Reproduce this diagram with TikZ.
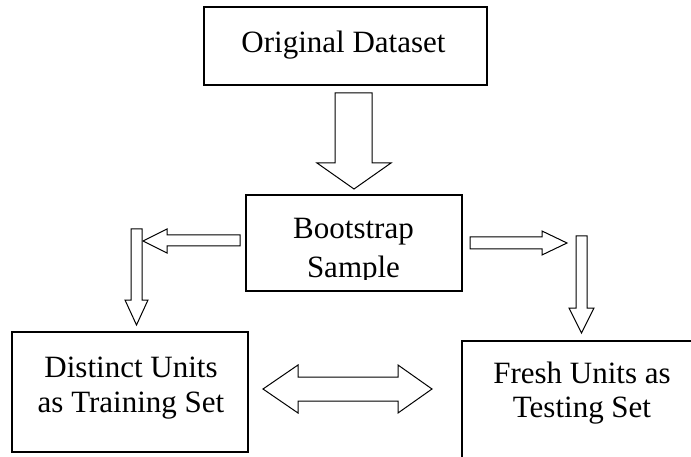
\documentclass[tikz,border=0pt]{standalone}
\usepackage{fontspec}
\setmainfont{Liberation Serif}
\begin{document}
\begin{tikzpicture}[x=1pt,y=-1pt,
  boxline/.style={draw=black,line width=1.4pt},
  blockarrow/.style={draw=black,line width=1pt,fill=white,line join=miter},
  lbl/.style={inner sep=0pt,anchor=base,font=\fontsize{31}{35}\selectfont}]
\useasboundingbox (0,0) rectangle (691,457);
\clip (0,0) rectangle (691,457);
% boxes
\draw[boxline] (204,7) rectangle (487,85);
\draw[boxline] (246,195) rectangle (462,291);
\draw[boxline] (12,332) rectangle (248,452);
\draw[boxline] (462,341) rectangle (705,480);
% texts
\node[lbl] (torig) at (343.5,53) {Original Dataset};
\node[lbl] (tboot) at (353.5,239) {Bootstrap};
\begin{scope}
  \clip (246,195) rectangle (462,280);
  \node[lbl] (tsamp) at (353.5,277) {Sample};
\end{scope}
\node[lbl] (tdist1) at (131,377) {Distinct Units};
\node[lbl] (tdist2) at (131,412) {as Training Set};
\node[lbl] (tfresh1) at (582,383) {Fresh Units as};
\node[lbl] (tfresh2) at (582,417) {Testing Set};
% big down arrow
\draw[blockarrow] (335,93) -- (372,93) -- (372,163) -- (391,163) -- (354,189)
  -- (317,163) -- (335,163) -- cycle;
% left horizontal arrow
\draw[blockarrow] (240,235) -- (167,235) -- (167,229) -- (143,241) -- (167,253)
  -- (167,246) -- (240,246) -- cycle;
% left vertical arrow
\draw[blockarrow] (131,229) -- (142,229) -- (142,300) -- (148,300) -- (136.5,325)
  -- (125,300) -- (131,300) -- cycle;
% right horizontal arrow
\draw[blockarrow] (470,237) -- (542,237) -- (542,231) -- (567,243) -- (542,255)
  -- (542,249) -- (470,249) -- cycle;
% right vertical arrow
\draw[blockarrow] (576,236) -- (587,236) -- (587,308) -- (594,308) -- (581.5,333)
  -- (569,308) -- (576,308) -- cycle;
% double arrow
\draw[blockarrow] (263,389) -- (298,365) -- (298,377) -- (398,377) -- (398,365)
  -- (432,389) -- (398,413) -- (398,401) -- (298,401) -- (298,413) -- cycle;
\end{tikzpicture}
\end{document}
